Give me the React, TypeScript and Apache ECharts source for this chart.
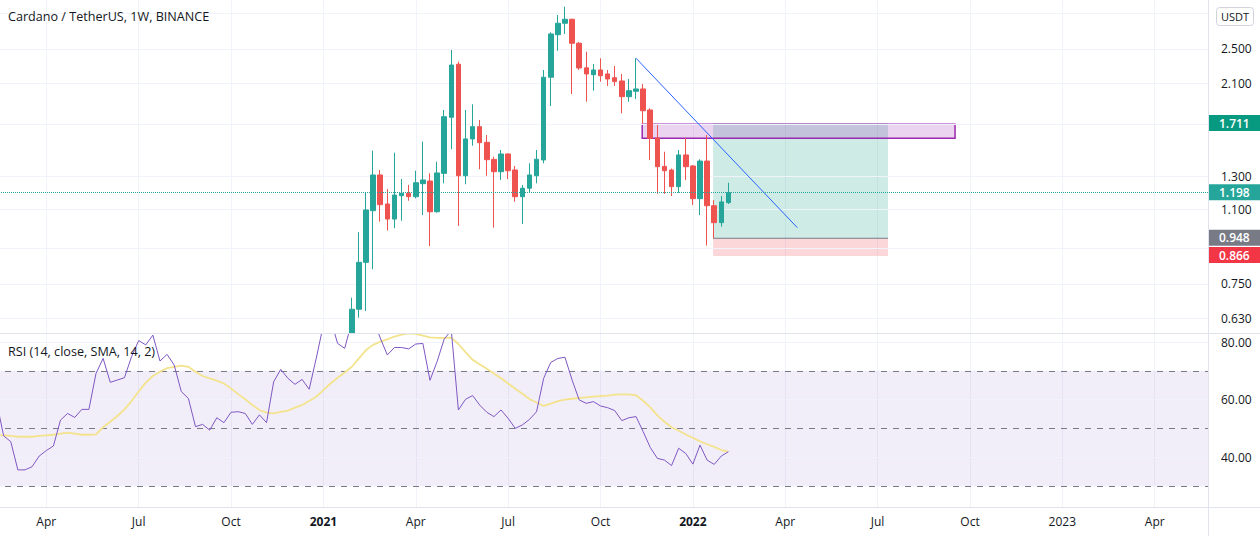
import React, { useEffect, useRef } from 'react';
import * as echarts from 'echarts';

// ---------- text ----------
const TITLE = 'Cardano / TetherUS, 1W, BINANCE';
const RSI_TITLE = 'RSI (14, close, SMA, 14, 2)';
const CURRENCY = 'USDT';
const MONTHS = ['Jan', 'Feb', 'Mar', 'Apr', 'May', 'Jun', 'Jul', 'Aug', 'Sep', 'Oct', 'Nov', 'Dec'];

// ---------- weekly slots (category axis) ----------
const FIRST_WEEK_UTC = Date.UTC(2020, 1, 17); // Monday 2020-02-17
const WEEK_COUNT = 171;
const weekDates: string[] = [];
for (let k = 0; k < WEEK_COUNT; k++) {
  weekDates.push(new Date(FIRST_WEEK_UTC + k * 7 * 86400000).toISOString().slice(0, 10));
}

// ---------- candles (weekly, from 2021-02-01 = slot 50) ----------
const CANDLE_START_SLOT = 50;
const opens = [0.39, 0.659, 0.838, 1.092, 1.311, 1.130, 1.046, 1.179, 1.194, 1.173, 1.254, 1.271, 1.086, 1.322, 1.762, 2.312, 1.306, 1.577, 1.679, 1.550, 1.420, 1.333, 1.460, 1.345, 1.173, 1.225, 1.306, 1.416, 2.163, 2.690, 2.852, 2.911, 2.575, 2.270, 2.191, 2.245, 2.200, 2.158, 2.122, 1.958, 2.013, 2.037, 1.829, 1.585, 1.370, 1.345, 1.235, 1.453, 1.373, 1.161, 1.408, 1.120, 1.027, 1.138];
const closes = [0.659, 0.838, 1.096, 1.311, 1.126, 1.046, 1.183, 1.194, 1.173, 1.260, 1.278, 1.086, 1.325, 1.767, 2.303, 1.306, 1.577, 1.679, 1.547, 1.418, 1.333, 1.460, 1.340, 1.173, 1.225, 1.311, 1.421, 2.163, 2.700, 2.852, 2.911, 2.574, 2.268, 2.200, 2.245, 2.180, 2.144, 2.115, 1.958, 2.019, 2.037, 1.822, 1.582, 1.368, 1.340, 1.235, 1.453, 1.368, 1.161, 1.408, 1.120, 1.027, 1.142, 1.198];
const lows = [0.37, 0.631, 0.653, 0.809, 1.032, 0.986, 0.998, 1.037, 1.149, 1.163, 1.068, 0.911, 1.081, 1.256, 1.496, 1.010, 1.250, 1.523, 1.350, 1.306, 1.001, 1.278, 1.284, 1.143, 1.020, 1.197, 1.256, 1.392, 1.867, 2.478, 2.700, 1.985, 2.245, 1.908, 2.019, 2.115, 2.069, 2.069, 1.798, 1.908, 1.935, 1.703, 1.416, 1.190, 1.190, 1.177, 1.197, 1.278, 1.124, 1.068, 0.913, 0.948, 1.006, 1.130];
const highs = [0.699, 0.978, 1.197, 1.485, 1.345, 1.220, 1.470, 1.284, 1.246, 1.340, 1.555, 1.322, 1.403, 1.829, 2.487, 2.342, 1.829, 1.883, 1.738, 1.609, 1.440, 1.490, 1.465, 1.373, 1.246, 1.392, 1.490, 2.245, 2.723, 2.976, 3.105, 2.920, 2.590, 2.466, 2.315, 2.384, 2.245, 2.291, 2.200, 2.144, 2.384, 2.090, 1.845, 1.694, 1.477, 1.355, 1.490, 1.587, 1.380, 1.421, 1.609, 1.153, 1.177, 1.260];

// ---------- RSI (from slot 0) ----------
const rsiValues = [59.2, 47.4, 45.4, 35.6, 35.6, 36.7, 40.4, 42.3, 43.9, 52.9, 55.2, 53.8, 56.6, 56.6, 69.1, 74.3, 66.0, 66.8, 67.6, 74.9, 80.5, 79.0, 82.4, 73.4, 75.7, 72.0, 62.8, 60.4, 50.6, 51.4, 49.4, 53.7, 52.0, 55.6, 55.8, 55.2, 51.4, 54.7, 52.0, 66.2, 70.5, 67.4, 65.3, 67.0, 63.6, 74.4, 86, 88, 79.5, 77.8, 87, 92, 93, 88, 81.4, 75.5, 78.1, 78.1, 77.6, 79.3, 79.5, 66.7, 73.2, 81.0, 84, 56.4, 60.1, 61.4, 58.1, 55.6, 54.1, 56.4, 53.5, 50.0, 51.2, 53.1, 55.8, 67.4, 72.9, 74.3, 74.7, 66.8, 59.9, 58.7, 59.3, 57.8, 57.2, 56.2, 52.7, 53.7, 54.1, 48.9, 43.4, 39.6, 39.0, 37.1, 43.1, 41.3, 37.6, 44.2, 39.0, 37.5, 40.4, 41.9];
const rsiMaValues = [47.7, 47.6, 47.4, 47.1, 47.1, 47.1, 47.4, 47.6, 47.8, 48.2, 48.5, 48.2, 47.8, 47.8, 47.9, 50.4, 52.3, 54.3, 56.6, 59.5, 62.8, 65.9, 68.2, 69.7, 70.9, 71.4, 71.8, 71.4, 69.7, 68.2, 67.4, 66.6, 65.6, 63.9, 61.9, 60.1, 58.1, 56.4, 55.5, 55.2, 55.7, 56.2, 57.2, 58.1, 59.5, 61.0, 63.3, 65.6, 67.6, 69.4, 71.4, 74.3, 77.2, 79.0, 80.1, 80.9, 81.9, 82.6, 83.0, 82.8, 82.2, 81.6, 81.4, 81.4, 81.5, 79.3, 76.5, 73.8, 72.3, 70.7, 69.1, 67.4, 65.6, 63.8, 62.0, 60.2, 59.0, 57.8, 58.6, 59.5, 60.0, 60.3, 60.6, 60.8, 61.0, 61.2, 61.4, 61.7, 61.8, 61.8, 61.5, 59.6, 57.3, 54.5, 52.3, 50.4, 49.2, 47.9, 46.7, 45.5, 44.5, 43.6, 42.5, 41.9];

// ---------- axis ticks ----------
const priceTicks = [3.0, 2.5, 2.1, 1.7, 1.3, 1.1, 0.9, 0.75, 0.63];
const priceTickLabels = ['3.000', '2.500', '2.100', '1.700', '1.300', '1.100', '0.900', '0.750', '0.630'];
const priceTickShown = [false, true, true, false, true, true, false, true, true];
const rsiTicks = [80, 60, 40];
const rsiTickLabels = ['80.00', '60.00', '40.00'];
const rsiLevels = [70, 50, 30];

// ---------- price markers ----------
const lastPrice = 1.198;
const targetPrice = 1.711;
const entryPrice = 0.948;
const stopPrice = 0.866;

// ---------- drawings (slot coordinates) ----------
const trendLine = [[90, 2.384], [112.7, 1.001]];
const zoneSlots = [90.87, 134.9];
const zonePrices = [1.70, 1.582];
const positionSlots = [100.85, 125.47];

const FONT = '"Open Sans", "Noto Sans", sans-serif';
const TEXT = '#131722';
const GRID = '#f0f3fa';
const UP = '#26a69a';
const DOWN = '#ef5350';
const SHIFT = 7; // chart container starts 7px left of the page edge
const NONE = 'rgba(0,0,0,0)';

function monthOf(k: number) {
  return parseInt(weekDates[k].slice(5, 7), 10) - 1;
}
function isQuarterStart(k: number) {
  if (k <= 0) return false;
  const m = monthOf(k);
  return m !== monthOf(k - 1) && m % 3 === 0;
}

function buildOption() {
  const candleData = weekDates.map((_, k) => {
    const i = k - CANDLE_START_SLOT;
    if (i >= 0 && i < opens.length) return [opens[i], closes[i], lows[i], highs[i]];
    return ['-', '-', '-', '-'];
  });

  const axisBoxLabel = (text: string, bg: string) => ({
    show: true,
    position: 'end',
    distance: 1,
    formatter: text,
    color: '#ffffff',
    fontSize: 12,
    fontWeight: 600,
    fontFamily: FONT,
    backgroundColor: bg,
    padding: [2, 11, 2, 10],
  });

  return {
    animation: false,
    backgroundColor: '#ffffff',
    textStyle: { fontFamily: FONT },
    grid: [
      { left: 0, right: 52, top: 0, height: 333.5 },
      { left: 0, right: 52, top: 334, height: 173 },
    ],
    xAxis: [
      {
        type: 'category', gridIndex: 0, data: weekDates, boundaryGap: true,
        axisLine: { show: false }, axisTick: { show: false }, axisLabel: { show: false },
        splitLine: { show: true, interval: (i: number) => isQuarterStart(i), alignWithLabel: true, lineStyle: { color: GRID, width: 1 } },
      },
      {
        type: 'category', gridIndex: 1, data: weekDates, boundaryGap: true, z: 4,
        axisLine: { show: false }, axisTick: { show: false },
        axisLabel: {
          show: true, interval: (i: number) => isQuarterStart(i), margin: 8,
          color: TEXT, fontSize: 12, fontFamily: FONT,
          formatter: (v: string) => {
            const m = parseInt(v.slice(5, 7), 10) - 1;
            const y = v.slice(0, 4);
            if (m === 0) return y === '2023' ? y : `{b|${y}}`;
            return MONTHS[m];
          },
          rich: { b: { fontWeight: 'bold', fontSize: 12, color: TEXT, fontFamily: FONT } },
        },
        splitLine: { show: true, interval: (i: number) => isQuarterStart(i), alignWithLabel: true, lineStyle: { color: GRID, width: 1 } },
      },
      { type: 'value', gridIndex: 0, min: -0.5, max: WEEK_COUNT - 0.5, show: false },
    ],
    yAxis: [
      { type: 'log', gridIndex: 0, min: 0.582, max: 3.213, show: false },
      { type: 'value', gridIndex: 1, min: 22.71, max: 82.78, show: false },
    ],
    graphic: [
      // white backdrop of the indicator pane, hides price candles overflowing below the price pane
      { type: 'rect', shape: { x: 0, y: 334, width: 1215, height: 173 }, style: { fill: '#ffffff' }, z: 3, silent: true },
      { type: 'line', shape: { x1: 0, y1: 333.5, x2: 1267, y2: 333.5 }, style: { stroke: '#e0e3eb', lineWidth: 1 }, z: 20 },
      { type: 'line', shape: { x1: 0, y1: 507.5, x2: 1267, y2: 507.5 }, style: { stroke: '#e0e3eb', lineWidth: 1 }, z: 20 },
      { type: 'line', shape: { x1: 1208.5 + SHIFT, y1: 0, x2: 1208.5 + SHIFT, y2: 536 }, style: { stroke: '#e0e3eb', lineWidth: 1 }, z: 20 },
      { type: 'text', x: 8 + SHIFT, y: 16, style: { text: TITLE, fontSize: 12.6, fill: TEXT, fontFamily: FONT, verticalAlign: 'middle' }, z: 30 },
      { type: 'text', x: 8 + SHIFT, y: 351, style: { text: RSI_TITLE, fontSize: 12.6, fill: TEXT, fontFamily: FONT, verticalAlign: 'middle' }, z: 30 },
      { type: 'rect', shape: { x: 1216.5 + SHIFT, y: 7.5, width: 37, height: 18, r: 3 }, style: { fill: '#ffffff', stroke: '#d1d4dc', lineWidth: 1 }, z: 30 },
      { type: 'text', x: 1235 + SHIFT, y: 16.5, style: { text: CURRENCY, fontSize: 11, fill: TEXT, fontFamily: FONT, align: 'center', verticalAlign: 'middle' }, z: 31 },
    ],
    series: [
      // trend line, price grid lines + price axis labels, drawn rectangles
      {
        type: 'line', name: 'trend', xAxisIndex: 2, yAxisIndex: 0,
        data: trendLine, showSymbol: false, symbol: 'none', silent: true, z: 5,
        lineStyle: { color: '#2962ff', width: 1 },
        markLine: {
          silent: true, symbol: ['none', 'none'], z: 1, animation: false,
          data: priceTicks.map((v, i) => ({
            yAxis: v,
            lineStyle: { color: GRID, width: 1, type: 'solid' },
            label: {
              show: priceTickShown[i], position: 'end', distance: 13, formatter: priceTickLabels[i],
              color: TEXT, fontSize: 12, fontFamily: FONT,
            },
          })),
        },
        markArea: {
          silent: true, animation: false,
          data: [
            [
              { coord: [positionSlots[0], targetPrice], itemStyle: { color: 'rgba(8,153,129,0.2)', borderWidth: 0 } },
              { coord: [positionSlots[1], entryPrice] },
            ],
            [
              { coord: [positionSlots[0], entryPrice], itemStyle: { color: 'rgba(242,54,69,0.2)', borderWidth: 0 } },
              { coord: [positionSlots[1], stopPrice] },
            ],
            [
              { coord: [zoneSlots[0], zonePrices[0]], itemStyle: { color: 'rgba(156,39,176,0.2)', borderColor: '#9c27b0', borderWidth: 1.5 } },
              { coord: [zoneSlots[1], zonePrices[1]] },
            ],
          ],
        },
      },
      {
        type: 'line', name: 'entry', xAxisIndex: 2, yAxisIndex: 0,
        data: [[positionSlots[0], entryPrice], [positionSlots[1], entryPrice]],
        showSymbol: false, symbol: 'none', silent: true, z: 4,
        lineStyle: { color: '#787b86', width: 1 },
      },
      {
        type: 'candlestick', name: 'ADAUSDT', xAxisIndex: 0, yAxisIndex: 0,
        data: candleData, barWidth: 5, z: 2,
        itemStyle: { color: UP, color0: DOWN, borderColor: UP, borderColor0: DOWN, borderWidth: 1 },
        markLine: {
          silent: true, symbol: ['none', 'none'], z: 10, animation: false,
          data: [
            { yAxis: targetPrice, lineStyle: { color: NONE, width: 0 }, label: axisBoxLabel('1.711', '#089981') },
            { yAxis: lastPrice, lineStyle: { color: UP, width: 1, type: 'dotted' }, label: axisBoxLabel('1.198', UP) },
            { yAxis: entryPrice, lineStyle: { color: NONE, width: 0 }, label: axisBoxLabel('0.948', '#787b86') },
            { yAxis: stopPrice, lineStyle: { color: NONE, width: 0 }, label: axisBoxLabel('0.866', '#f23645') },
          ],
        },
      },
      {
        type: 'line', name: 'RSI', xAxisIndex: 1, yAxisIndex: 1,
        data: rsiValues, showSymbol: false, symbol: 'none', z: 7,
        lineStyle: { color: '#7e57c2', width: 1 },
        markArea: {
          silent: true, z: 5, animation: false,
          itemStyle: { color: 'rgba(126,87,194,0.1)' },
          data: [[{ yAxis: rsiLevels[0] }, { yAxis: rsiLevels[2] }]],
        },
        markLine: {
          silent: true, symbol: ['none', 'none'], z: 6, animation: false,
          data: [
            ...rsiTicks.map((v, i) => ({
              yAxis: v,
              lineStyle: { color: GRID, width: 1, type: 'solid' },
              label: { show: true, position: 'end', distance: 13, formatter: rsiTickLabels[i], color: TEXT, fontSize: 12, fontFamily: FONT },
            })),
            ...rsiLevels.map((v) => ({
              yAxis: v,
              lineStyle: { color: '#787b86', width: 1, type: [6, 6] },
              label: { show: false },
            })),
          ],
        },
      },
      {
        type: 'line', name: 'RSI MA', xAxisIndex: 1, yAxisIndex: 1,
        data: rsiMaValues, showSymbol: false, symbol: 'none', z: 6,
        lineStyle: { color: '#f3e38d', width: 1.8 },
      },
    ],
  };
}

export default function App() {
  const ref = useRef<HTMLDivElement>(null);
  useEffect(() => {
    if (!ref.current) return;
    const chart = echarts.init(ref.current, null, { renderer: 'svg' });
    chart.setOption(buildOption() as any);
    return () => chart.dispose();
  }, []);
  return (
    <div
      ref={ref}
      style={{ position: 'fixed', left: -SHIFT, top: 0, width: 1260 + SHIFT, height: 536, background: '#ffffff' }}
    />
  );
}
